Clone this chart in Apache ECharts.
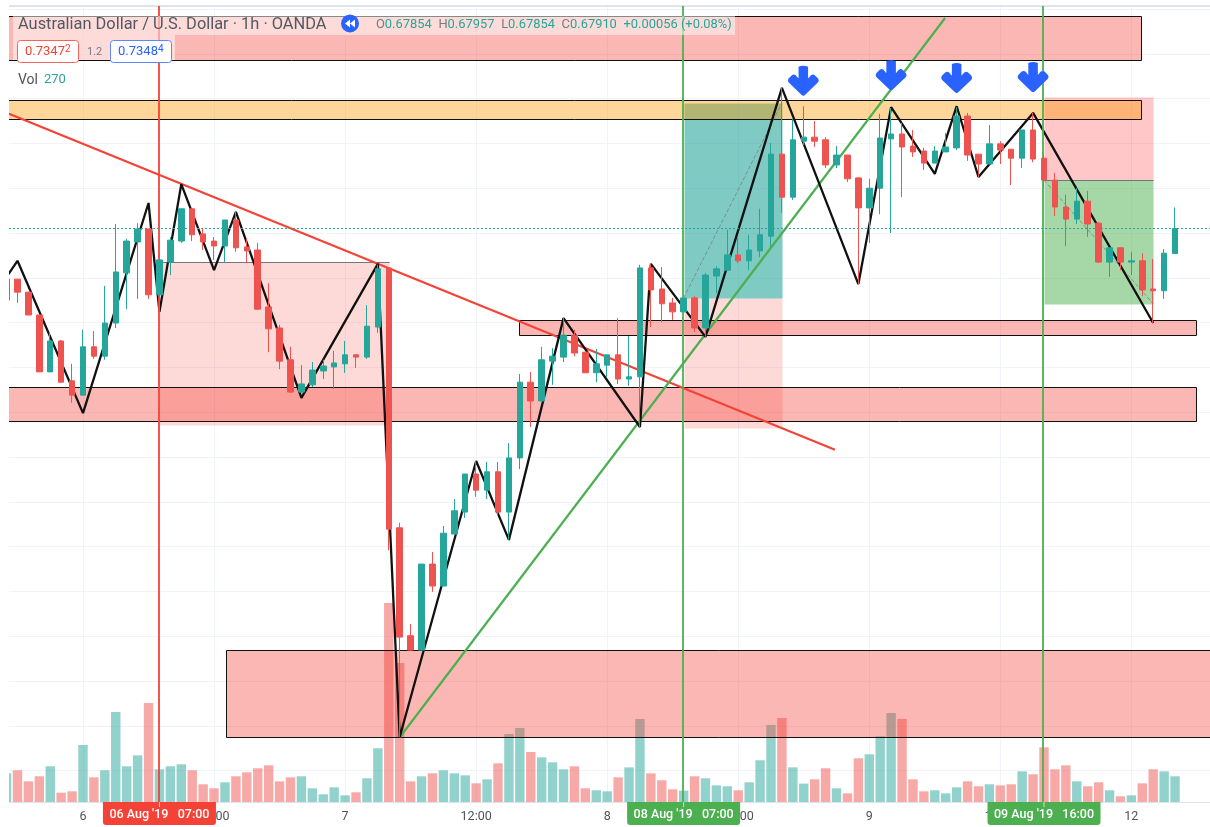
<!DOCTYPE html>
<html>
<head>
<meta charset="utf-8">
<script src="https://cdn.jsdelivr.net/npm/echarts@6/dist/echarts.min.js"></script>
<style>html,body{margin:0;padding:0;background:#fff}#c{width:1210px;height:827px}</style>
</head>
<body>
<div id="c"></div>
<script>
// Hour index of the first bar; hour 0 = 6 Aug 2019 00:00
const firstHour = -7;
const opens = [.67750,.67797,.67768,.67717,.67590,.67659,.67570,.67538,.67646,.67625,.67699,.67811,.67880,.67909,.67762,.67835,.67882,.67954,.67898,.67882,.67871,.67929,.67869,.67862,.67735,.67688,.67617,.67545,.67561,.67592,.67601,.67608,.67628,.67623,.67690,.67822,.67242,.67001,.66969,.67161,.67112,.67228,.67277,.67362,.67326,.67367,.67277,.67398,.67567,.67525,.67614,.67623,.67672,.67634,.67588,.67605,.67628,.67574,.67579,.67822,.67775,.67744,.67724,.67755,.67688,.67804,.67817,.67851,.67838,.67860,.67893,.68076,.67980,.68105,.68114,.68108,.68052,.68074,.68023,.67956,.68000,.68110,.68121,.68094,.68083,.68056,.68081,.68090,.68161,.68076,.68054,.68099,.68087,.68067,.68130,.68067,.68018,.67958,.67931,.67971,.67922,.67835,.67867,.67835,.67838,.67775,.67771,.67854];
const closes = [.67797,.67768,.67717,.67590,.67659,.67567,.67538,.67646,.67625,.67699,.67813,.67882,.67909,.67762,.67840,.67884,.67954,.67896,.67880,.67871,.67929,.67867,.67860,.67730,.67686,.67614,.67545,.67563,.67594,.67603,.67610,.67628,.67623,.67692,.67820,.67239,.66998,.66969,.67161,.67112,.67230,.67280,.67362,.67326,.67367,.67277,.67398,.67567,.67525,.67617,.67625,.67672,.67632,.67588,.67608,.67628,.67574,.67579,.67822,.67773,.67742,.67724,.67755,.67688,.67806,.67820,.67851,.67838,.67862,.67896,.68076,.67980,.68108,.68114,.68105,.68052,.68074,.68021,.67956,.68000,.68112,.68121,.68092,.68081,.68056,.68083,.68092,.68161,.68074,.68054,.68099,.68085,.68067,.68130,.68065,.68018,.67958,.67931,.67971,.67920,.67835,.67867,.67835,.67838,.67773,.67771,.67855,.67910];
const lows = [.67750,.67744,.67717,.67590,.67590,.67567,.67521,.67538,.67619,.67617,.67688,.67730,.67753,.67753,.67724,.67806,.67878,.67882,.67862,.67840,.67835,.67858,.67833,.67728,.67634,.67596,.67543,.67545,.67556,.67574,.67552,.67588,.67599,.67619,.67677,.67192,.66775,.66967,.66969,.67099,.67112,.67228,.67264,.67311,.67306,.67271,.67215,.67373,.67467,.67525,.67561,.67612,.67625,.67588,.67567,.67579,.67563,.67559,.67467,.67690,.67701,.67706,.67724,.67679,.67668,.67766,.67817,.67833,.67817,.67846,.67869,.67945,.67974,.68096,.68092,.68045,.68045,.68014,.67786,.67878,.67942,.67900,.67980,.68070,.68041,.68056,.68081,.68085,.68061,.68025,.68054,.68054,.68007,.68045,.68058,.68000,.67938,.67871,.67920,.67891,.67833,.67802,.67817,.67806,.67759,.67699,.67753,.67854];
const highs = [.67797,.67797,.67768,.67717,.67677,.67661,.67608,.67684,.67681,.67782,.67920,.67887,.67922,.67909,.67855,.67891,.67954,.67954,.67911,.67891,.67929,.67949,.67889,.67878,.67788,.67695,.67646,.67605,.67612,.67617,.67637,.67659,.67630,.67739,.67829,.67822,.67253,.67027,.67161,.67188,.67246,.67306,.67362,.67391,.67389,.67389,.67431,.67585,.67590,.67646,.67643,.67710,.67684,.67634,.67641,.67628,.67710,.67670,.67829,.67831,.67824,.67755,.67755,.67759,.67811,.67826,.67907,.67889,.67896,.67954,.68101,.68224,.68154,.68183,.68150,.68114,.68094,.68074,.68025,.68021,.68166,.68179,.68146,.68130,.68090,.68094,.68123,.68181,.68168,.68076,.68141,.68105,.68087,.68130,.68168,.68076,.68034,.67985,.68000,.67994,.67925,.67867,.67867,.67858,.67855,.67842,.67864,.67957];
const volumes = [301,333,217,270,375,98,112,599,259,333,945,375,490,1040,343,375,396,333,186,144,207,270,312,354,385,217,259,270,144,81,154,70,102,249,564,2090,1460,217,270,301,333,301,280,196,238,406,714,777,525,469,417,343,375,144,123,112,259,364,872,301,228,133,119,270,249,175,165,123,207,438,809,882,364,193,238,354,144,91,459,501,690,935,872,238,112,123,91,154,217,165,186,175,186,322,291,574,343,385,217,165,207,123,60,70,196,343,322,270];

const priceLine = [[-6.777,.67910],[103.2,.67910]];
const priceGrid = [.667,.668,.669,.670,.671,.672,.673,.674,.675,.676,.677,.678,.679,.680,.681,.682,.683,.684];
const timeTicks = [0,12,24,36,48,60,72,84,96];
const timeLabels = ['6','12:00','7','12:00','8','12:00','9','12:00','12'];

// Horizontal zones: [fromHour, toHour, upperPrice, lowerPrice]
const salmonBands = [[-9,96.9,.68384,.68286],[39.9,101.9,.67706,.67672],[-9,101.9,.67556,.67480],[13.1,105,.66969,.66775]];
const orangeBands = [[-9,96.9,.68197,.68154]];
const riskZones = [[7,28,.67835,.67471],[55,64,.67755,.67465]];
const longTargetZones = [[55,64,.68190,.67755]];
const shortStopZones = [[88,98,.68204,.68018]];
const shortTargetZones = [[88,98,.68018,.67742]];
const entryLines = [[7,28,.67835,.67835],[88,98,.68018,.68018]];

const zigzag = [[-7,.67802],[-6,.67838],[0,.67498],[6,.67967],[7,.67724],[9,.68009],[12,.67817],[14,.67947],[20,.67532],[27,.67831],[29,.66775],[36,.67391],[39,.67215],[44,.67710],[51,.67467],[52,.67831],[57,.67668],[64,.68224],[71,.67786],[74,.68181],[78,.68032],[80,.68183],[82,.68025],[87,.68168],[98,.67699]];
const redTrend = [[-6.78,.68166],[68.86,.67416]];
const greenTrend = [[29.03,.66775],[78.94,.68380]];
const longPath = [[55,.67755],[64,.68190]];
const shortPath = [[88,.68018],[98,.67742]];
const arrowMarks = [[65.96,.68240],[74,.68252],[80,.68246],[87,.68248]];
const redVerticals = [6.95];
const greenVerticals = [54.92,87.93];
const redTags = [[7,"06 Aug '19   07:00"]];
const greenTags = [[55,"08 Aug '19   07:00"],[88,"09 Aug '19   16:00"]];

const UP='#26a69a', DOWN='#ef5350', VUP='rgba(38,166,154,0.5)', VDOWN='rgba(239,83,80,0.5)';
const FONT='Roboto, "Noto Sans", sans-serif';
const rows = opens.map((o,k)=>[firstHour+k,o,closes[k],lows[k],highs[k]]);
const volRows = volumes.map((v,k)=>({value:[firstHour+k,v],itemStyle:{color:closes[k]>=opens[k]?VUP:VDOWN}}));

function rectSeries(data, fill, stroke, z){
  return {type:'custom',coordinateSystem:'cartesian2d',xAxisIndex:0,yAxisIndex:0,clip:true,silent:true,z:z,
    encode:{x:[0,1],y:[2,3]},data:data,
    renderItem:function(p,api){
      const a=api.coord([api.value(0),api.value(2)]),b=api.coord([api.value(1),api.value(3)]);
      const x=Math.round(a[0])+.5,y=Math.round(a[1])+.5,w=Math.round(b[0])+.5-x,h=Math.round(b[1])+.5-y;
      return {type:'rect',shape:{x:x,y:y,width:w,height:h},style:{fill:fill,stroke:stroke||null,lineWidth:stroke?1:0}};
    }};
}
function lineSeries(data,color,width,z,type){
  return {type:'line',xAxisIndex:0,yAxisIndex:0,data:data,symbol:'none',silent:true,z:z,clip:true,
    itemStyle:{color:color},lineStyle:{color:color,width:width,type:type||'solid'}};
}
function verticalSeries(list,color,z){
  return {type:'line',xAxisIndex:0,yAxisIndex:0,data:[],silent:true,z:z,
    markLine:{silent:true,symbol:'none',label:{show:false},animation:false,z:z,lineStyle:{color:color,width:2,type:'solid',opacity:.9},
      data:list.map(v=>({xAxis:v}))}};
}
function tagSeries(list,color){
  return {type:'custom',coordinateSystem:'cartesian2d',xAxisIndex:0,yAxisIndex:0,clip:false,silent:true,z:30,
    encode:{x:0},data:list.map(t=>[t[0],t[1]]),dimensions:[{name:'h',type:'number'},{name:'t',type:'ordinal'}],
    renderItem:function(p,api){
      const h=list[p.dataIndex],x=api.coord([h[0],.67])[0],y=p.coordSys.y+p.coordSys.height;
      return {type:'group',children:[
        {type:'rect',shape:{x:x-56.5,y:y,width:113,height:23,r:[0,0,3,3]},style:{fill:color}},
        {type:'rect',shape:{x:x-.5,y:y,width:1,height:5},style:{fill:'rgba(255,255,255,.7)'}},
        {type:'text',style:{x:x,y:y+12.5,text:h[1],fill:'#fff',font:'500 12.5px '+FONT,align:'center',verticalAlign:'middle'}}
      ]};
    }};
}

const hdrX=18;
const option={
  animation:false,
  backgroundColor:'#fff',
  grid:{left:9,right:0,top:6,bottom:25,containLabel:false},
  xAxis:[
    {type:'value',min:-6.777,max:103.2,position:'bottom',
     axisLine:{show:true,onZero:false,lineStyle:{color:'#e0e3eb',width:1}},
     axisTick:{show:false,customValues:timeTicks},
     splitLine:{show:true,customValues:timeTicks,lineStyle:{color:'#f0f3fa',width:1}},
     axisLabel:{customValues:timeTicks,margin:8,color:'#50535e',fontFamily:FONT,fontSize:12.5,
       formatter:v=>timeLabels[timeTicks.indexOf(v)],hideOverlap:false}},
    {type:'value',min:-6.777,max:103.2,position:'top',
     axisLine:{show:true,onZero:false,lineStyle:{color:'#e0e3eb',width:2}},
     axisTick:{show:false},splitLine:{show:false},axisLabel:{show:false}}
  ],
  yAxis:[
    {type:'value',min:.666299,max:.684067,
     axisLine:{show:false},axisLabel:{show:false},
     axisTick:{show:false,customValues:priceGrid},
     splitLine:{show:true,customValues:priceGrid,lineStyle:{color:'#f0f3fa',width:1}}},
    {type:'value',min:0,max:8358,show:false,splitLine:{show:false}}
  ],
  series:[
    {type:'bar',name:'Vol',xAxisIndex:0,yAxisIndex:1,barWidth:9.4,data:volRows,z:1,silent:true,clip:true},
    rectSeries(riskZones,'rgba(244,67,54,0.2)',null,2),
    rectSeries(longTargetZones,'rgba(0,150,136,0.5)',null,2),
    rectSeries(shortStopZones,'rgba(255,0,0,0.22)',null,2),
    rectSeries(shortTargetZones,'rgba(76,175,80,0.5)',null,2),
    rectSeries(entryLines,null,'rgba(110,113,124,0.8)',2),
    rectSeries(salmonBands,'rgba(244,67,54,0.38)','#111',3),
    rectSeries(orangeBands,'rgba(255,152,0,0.4)','#111',3),
    lineSeries(longPath,'rgba(120,123,134,0.75)',1,4,'dashed'),
    lineSeries(shortPath,'rgba(120,123,134,0.75)',1,4,'dashed'),
    lineSeries(redTrend,'#f44336',2.2,4),
    lineSeries(greenTrend,'#4caf50',2.2,4),
    lineSeries(zigzag,'#111',2.3,5),
    verticalSeries(redVerticals,'#f44336',6),
    verticalSeries(greenVerticals,'#4caf50',6),
    lineSeries(priceLine,'#26a69a',1,6,[2,2]),
    {type:'candlestick',xAxisIndex:0,yAxisIndex:0,data:rows,encode:{x:0,y:[1,2,3,4]},barWidth:6,silent:true,z:8,clip:true,
     itemStyle:{color:UP,color0:DOWN,borderColor:UP,borderColor0:DOWN,borderWidth:1}},
    {type:'scatter',xAxisIndex:0,yAxisIndex:0,data:arrowMarks,silent:true,z:9,clip:false,symbolSize:[31,30],
     symbol:'path://M11 1.5Q16 -.5 21 1.5L21 14L24 10.5Q26 9 28 10.5L31.5 14Q33 16 31.5 18L18 31Q16 33 14 31L.5 18Q-1 16 .5 14L4 10.5Q6 9 8 10.5L11 14Z',
     itemStyle:{color:'#2962ff',opacity:1}},
    tagSeries(redTags,'#f44336'),
    tagSeries(greenTags,'#4caf50')
  ],
  graphic:[
    {type:'rect',z:39,silent:true,shape:{x:0,y:0,width:9,height:827},style:{fill:'#fff'}},
    {type:'rect',z:40,silent:true,shape:{x:13,y:16,width:722,height:19},style:{fill:'rgba(255,255,255,.5)'}},
    {type:'rect',z:40,silent:true,shape:{x:13,y:35,width:162,height:25},style:{fill:'rgba(255,255,255,.5)'}},
    {type:'text',z:41,silent:true,style:{x:hdrX,y:24.5,text:'Australian Dollar / U.S. Dollar · 1h · OANDA',fill:'#555862',font:'16.4px '+FONT,verticalAlign:'middle'}},
    {type:'circle',z:41,silent:true,shape:{cx:350,cy:23.5,r:9},style:{fill:'#2962ff'}},
    {type:'polygon',z:42,silent:true,shape:{points:[[350,19.5],[350,27.5],[345,23.5]]},style:{fill:'#fff'}},
    {type:'polygon',z:42,silent:true,shape:{points:[[355,19.5],[355,27.5],[350,23.5]]},style:{fill:'#fff'}},
    {type:'text',z:41,silent:true,style:{x:376,y:24.5,verticalAlign:'middle',
      text:'{g|O}{t|0.67854}  {g|H}{t|0.67957}  {g|L}{t|0.67854}  {g|C}{t|0.67910}  {t|+0.00056 (+0.08%)}',
      rich:{g:{fill:'#787b86',font:'12.9px '+FONT},t:{fill:'#26a69a',font:'12.9px '+FONT}}}},
    {type:'rect',z:41,silent:true,shape:{x:17.5,y:40.5,width:61,height:22,r:3},style:{fill:'#fff',stroke:'#f4645a',lineWidth:1}},
    {type:'text',z:42,silent:true,style:{x:25,y:52,verticalAlign:'middle',
      text:'{a|0.7347}{b|2}',rich:{a:{fill:'#f44336',font:'13px '+FONT},b:{fill:'#f44336',font:'10px '+FONT,verticalAlign:'top',padding:[0,0,5,0]}}}},
    {type:'text',z:42,silent:true,style:{x:87,y:52,verticalAlign:'middle',text:'1.2',fill:'#787b86',font:'11px '+FONT}},
    {type:'rect',z:41,silent:true,shape:{x:110.5,y:40.5,width:61,height:22,r:3},style:{fill:'#fff',stroke:'#5d86ff',lineWidth:1}},
    {type:'text',z:42,silent:true,style:{x:118,y:52,verticalAlign:'middle',
      text:'{a|0.7348}{b|4}',rich:{a:{fill:'#2962ff',font:'13px '+FONT},b:{fill:'#2962ff',font:'10px '+FONT,verticalAlign:'top',padding:[0,0,5,0]}}}},
    {type:'text',z:41,silent:true,style:{x:hdrX,y:80,verticalAlign:'middle',text:'Vol',fill:'#50535e',font:'14px '+FONT}},
    {type:'text',z:41,silent:true,style:{x:44,y:80,verticalAlign:'middle',text:'270',fill:'#26a69a',font:'13px '+FONT}}
  ]
};
const chart=echarts.init(document.getElementById('c'),null,{renderer:'canvas'});
chart.setOption(option);
</script>
</body>
</html>
